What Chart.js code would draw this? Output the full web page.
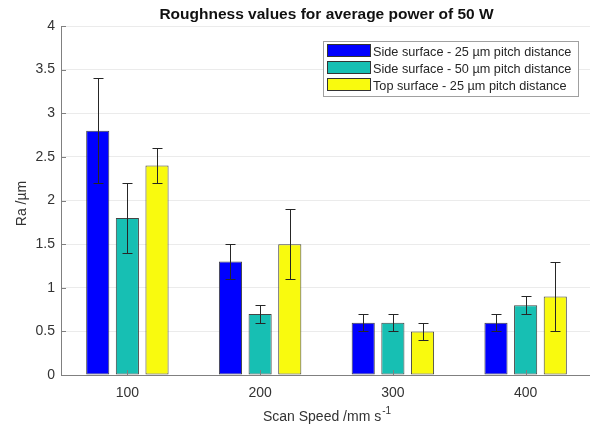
<!DOCTYPE html>
<html>
<head>
<meta charset="utf-8">
<script src="https://cdn.jsdelivr.net/npm/chart.js@4.4.0/dist/chart.umd.min.js"></script>
<style>
  html, body { margin: 0; padding: 0; background: #fff; overflow: hidden; }
  #wrap { width: 590px; height: 427px; overflow: hidden; }
  #box { width: 594px; height: 427px; position: relative; }
</style>
</head>
<body>
<div id="wrap"><div id="box"><canvas id="chart"></canvas></div></div>
<script>
const categories = ["100", "200", "300", "400"];
const seriesLabels = [
  "Side surface - 25 \u00b5m pitch distance",
  "Side surface - 50 \u00b5m pitch distance",
  "Top surface - 25 \u00b5m pitch distance"
];
const side25 = [2.8, 1.3, 0.6, 0.6];
const side50 = [1.8, 0.7, 0.6, 0.8];
const top25 = [2.4, 1.5, 0.5, 0.9];
const side25Err = [0.6, 0.2, 0.1, 0.1];
const side50Err = [0.4, 0.1, 0.1, 0.1];
const top25Err = [0.2, 0.4, 0.1, 0.4];
const yTicks = [0, 0.5, 1, 1.5, 2, 2.5, 3, 3.5, 4];

const FONT = "'Liberation Sans', Arial, sans-serif";
const colors = ["#0000ff", "#17bfb3", "#f9fa0e"];
const errs = [side25Err, side50Err, top25Err];

// error bars, small tick marks, titles and legend
const extras = {
  id: "extras",
  afterDatasetsDraw(chart) {
    const ctx = chart.ctx;
    const y = chart.scales.y;
    const x = chart.scales.x;
    const area = chart.chartArea;
    ctx.save();
    ctx.strokeStyle = "#262626";
    ctx.lineWidth = 1;
    chart.data.datasets.forEach((ds, di) => {
      const meta = chart.getDatasetMeta(di);
      meta.data.forEach((bar, i) => {
        const v = ds.data[i];
        const e = errs[di][i];
        const cx = Math.round(bar.x) + 0.5;
        const yt = Math.round(y.getPixelForValue(v + e)) + 0.5;
        const yb = Math.round(y.getPixelForValue(v - e)) + 0.5;
        ctx.beginPath();
        ctx.moveTo(cx, yt); ctx.lineTo(cx, yb);
        ctx.moveTo(cx - 5, yt); ctx.lineTo(cx + 5, yt);
        ctx.moveTo(cx - 5, yb); ctx.lineTo(cx + 5, yb);
        ctx.stroke();
      });
    });
    // inward ticks
    ctx.strokeStyle = "#808080";
    ctx.beginPath();
    yTicks.forEach(t => {
      const py = Math.round(y.getPixelForValue(t)) + 0.5;
      ctx.moveTo(area.left, py); ctx.lineTo(area.left + 5, py);
    });
    categories.forEach((c, i) => {
      const px = Math.round(x.getPixelForValue(i)) + 0.5;
      ctx.moveTo(px, area.bottom); ctx.lineTo(px, area.bottom - 5);
    });
    ctx.stroke();
    ctx.restore();
  },
  afterDraw(chart) {
    const ctx = chart.ctx;
    const area = chart.chartArea;
    const midX = (area.left + area.right) / 2;
    ctx.save();
    // title
    ctx.fillStyle = "#111";
    ctx.font = "bold 15.5px " + FONT;
    ctx.textAlign = "center";
    ctx.textBaseline = "middle";
    ctx.fillText("Roughness values for average power of 50 W", midX, 15);
    // x axis title with superscript
    ctx.fillStyle = "#333";
    ctx.font = "14px " + FONT;
    const main = "Scan Speed /mm s";
    const sup = "-1";
    const wMain = ctx.measureText(main).width;
    ctx.font = "10px " + FONT;
    const wSup = ctx.measureText(sup).width;
    const startX = midX - (wMain + wSup) / 2;
    ctx.textAlign = "left";
    ctx.textBaseline = "alphabetic";
    ctx.font = "14px " + FONT;
    ctx.fillText(main, startX, 421);
    ctx.font = "10px " + FONT;
    ctx.fillText(sup, startX + wMain + 1, 414);
    // y axis title
    ctx.font = "14px " + FONT;
    ctx.textAlign = "center";
    ctx.textBaseline = "middle";
    ctx.translate(22, (area.top + area.bottom) / 2 + 3);
    ctx.rotate(-Math.PI / 2);
    ctx.fillText("Ra /\u00b5m", 0, 0);
    ctx.restore();

    // legend
    ctx.save();
    const lx = 323.5, ly = 41.5, lw = 255, lh = 55;
    ctx.fillStyle = "#fff";
    ctx.fillRect(lx, ly, lw, lh);
    ctx.strokeStyle = "#a0a0a0";
    ctx.lineWidth = 1;
    ctx.strokeRect(lx, ly, lw, lh);
    ctx.font = "12.7px " + FONT;
    ctx.textAlign = "left";
    ctx.textBaseline = "middle";
    seriesLabels.forEach((lab, i) => {
      const cy = 51 + i * 17;
      ctx.fillStyle = colors[i];
      ctx.fillRect(327.5, cy - 6.5, 43, 12);
      ctx.strokeStyle = "#333";
      ctx.strokeRect(327.5, cy - 6.5, 43, 12);
      ctx.fillStyle = "#262626";
      ctx.fillText(lab, 373, cy + 1);
    });
    ctx.restore();
  }
};

const makeSet = (label, data, color) => ({
  label: label,
  data: data,
  backgroundColor: color,
  borderColor: "#444",
  borderWidth: 1,
  borderSkipped: false,
  categoryPercentage: 0.67,
  barPercentage: 0.78
});

new Chart(document.getElementById("chart"), {
  type: "bar",
  data: {
    labels: categories,
    datasets: [
      makeSet(seriesLabels[0], side25, colors[0]),
      makeSet(seriesLabels[1], side50, colors[1]),
      makeSet(seriesLabels[2], top25, colors[2])
    ]
  },
  options: {
    responsive: true,
    maintainAspectRatio: false,
    animation: false,
    layout: { padding: { top: 26, right: 2, left: 0, bottom: 0 } },
    plugins: {
      legend: { display: false },
      title: { display: false },
      tooltip: { enabled: false }
    },
    scales: {
      x: {
        afterFit: s => { s.height = 52; },
        grid: { display: false, drawTicks: false },
        border: { display: true, color: "#808080" },
        ticks: { color: "#333", font: { family: FONT, size: 14 }, padding: 10 }
      },
      y: {
        min: 0,
        max: 4,
        afterFit: s => { s.width = 61; },
        afterBuildTicks: s => { s.ticks = yTicks.map(v => ({ value: v })); },
        grid: { color: "#ebebeb", drawTicks: false },
        border: { display: true, color: "#808080" },
        ticks: {
          color: "#333",
          font: { family: FONT, size: 14 },
          padding: 6,
          callback: v => String(v)
        }
      }
    }
  },
  plugins: [extras]
});
</script>
</body>
</html>
